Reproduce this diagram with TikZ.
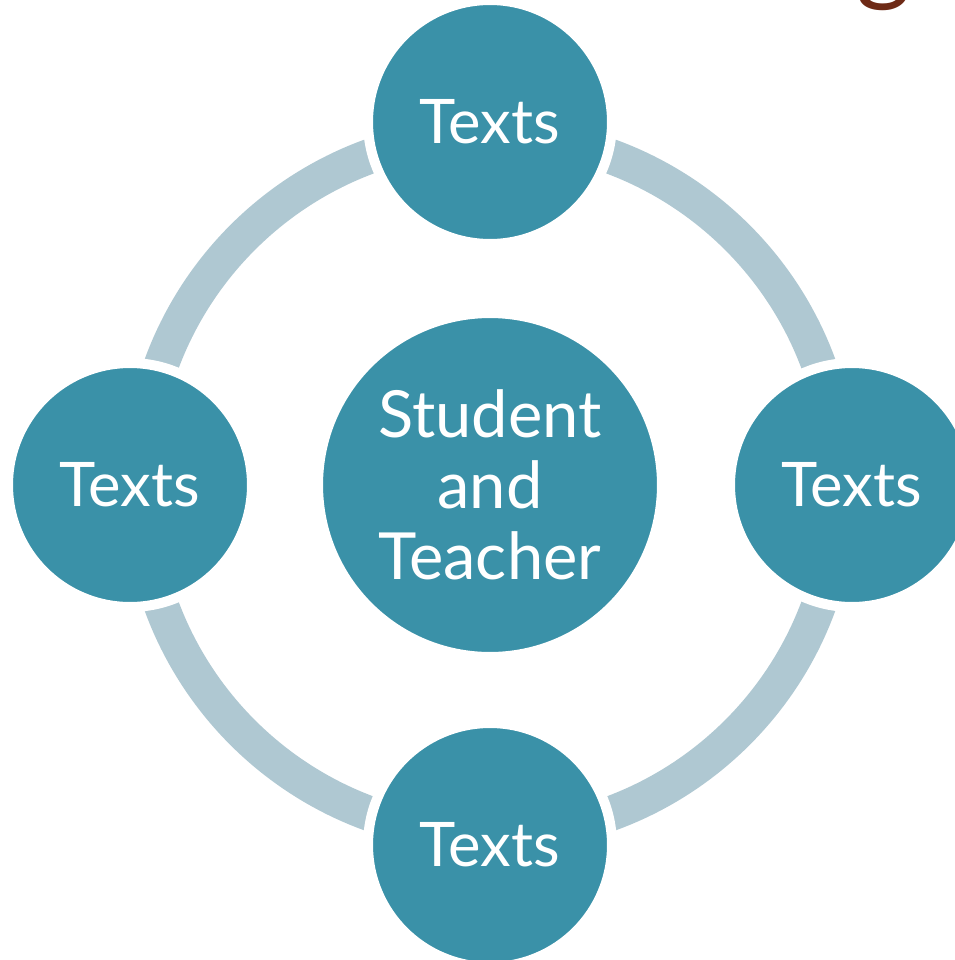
\documentclass[tikz,border=0pt]{standalone}
\usepackage{fontspec}
\setmainfont{Lato}
\definecolor{circleteal}{RGB}{58,145,168}
\definecolor{ringblue}{RGB}{175,200,210}
\definecolor{titlebrown}{RGB}{110,42,22}
\usetikzlibrary{backgrounds}

\begin{document}
\begin{tikzpicture}[x=0.02cm, y=-0.02cm,
        bubble/.style={circle, fill=circleteal, draw=white, line width=0.2cm,
            minimum size=4.88cm, inner sep=0pt, align=center, text=white,
            font=\fontsize{35}{40}\selectfont},
        hubbubble/.style={bubble, minimum size=6.88cm,
            font=\fontsize{37}{40.5}\selectfont},
        ringline/.style={draw=ringblue, line width=0.7cm}]
    \useasboundingbox (0,0) rectangle (955,960);

    % cut-off title letter in the corner
    \node[anchor=base, text=titlebrown, font=\fontsize{60}{60}\selectfont, inner sep=0pt] (titleg) at (884,-9) {g};

    % middle and the four outer circles
    \node[hubbubble] (hub) at (490,485) {Student\\and\\Teacher};
    \node[bubble] (textsTop) at (490,122) {Texts};
    \node[bubble] (textsLeft) at (130,485) {Texts};
    \node[bubble] (textsRight) at (852,485) {Texts};
    \node[bubble] (textsBottom) at (490,845) {Texts};

    % ring behind the outer circles
    \begin{pgfonlayer}{background}
        \draw[ringline] (hub.center) circle[radius=7cm];
    \end{pgfonlayer}
\end{tikzpicture}
\end{document}
